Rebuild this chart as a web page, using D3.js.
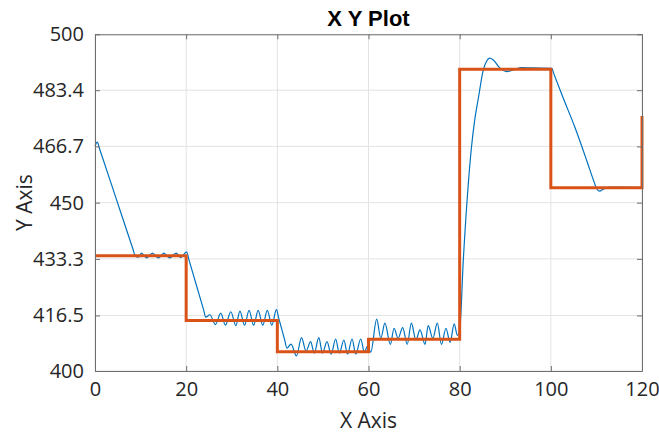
<!DOCTYPE html>
<html>
<head>
<meta charset="utf-8">
<script src="https://cdn.jsdelivr.net/npm/d3@7"></script>
<style>
html,body{margin:0;padding:0;background:#fff;}
svg{display:block;}
.tick-label{font-family:"Open Sans",sans-serif;font-size:20px;fill:#262626;}
.axis-title{font-family:"Open Sans",sans-serif;font-size:21px;fill:#262626;}
.title{font-family:"Liberation Sans",Arial,sans-serif;font-size:22px;font-weight:bold;fill:#000;}
</style>
</head>
<body>
<svg id="chart" width="659" height="434"></svg>
<script>
/* data */
const xTicks=[0,20,40,60,80,100,120];
const yTicks=[400,416.5,433.3,450,466.7,483.4,500];
const yTickLabels=["400","416.5","433.3","450","466.7","483.4","500"];

// reference: step levels (x where each step starts, y level)
const refX=[0,20,40,60,80,100,120];
const refY=[434.2,415.0,405.7,409.4,489.6,454.4,475.7];

// response curve
const respX=[0,0.5,1.0,4.5,8.3,8.8,9.5,10.2,11.3,12.6,13.9,15.1,16.4,17.8,18.8,20.1,
  20.6,22.2,23.8,24.3,25.2,26.4,27.6,28.6,29.8,30.9,31.8,32.8,33.8,34.8,35.8,36.8,37.8,38.8,39.8,
  40.3,41.6,42.1,43.0,44.2,45.3,46.3,47.3,48.1,49.1,49.9,50.9,51.8,52.8,53.6,54.6,55.4,56.4,57.2,58.3,59.1,59.8,60.5,
  61.8,62.7,63.6,64.8,65.6,66.5,67.5,68.5,69.4,70.4,71.3,72.4,73.1,74.1,75.1,76.0,77.0,77.9,78.8,79.5,80.0,
  80.8,81.9,82.6,83.3,84.1,85.2,85.9,86.6,87.5,88.5,89.5,90.3,91.7,93.6,96.0,100.2,
  100.7,102.5,105.3,108.0,109.5,110.0,110.7,111.5,113.0,120];
const respY=[466.8,468.0,466.0,451.8,436.3,434.3,433.8,435.0,433.6,435.0,433.6,435.0,433.6,435.0,433.7,435.4,
  433.1,425.7,418.3,416.0,416.7,413.8,417.2,413.6,417.6,413.5,417.8,413.6,418.0,413.6,418.0,413.6,418.0,413.6,418.2,
  415.7,409.3,406.8,408.0,404.5,409.9,405.9,408.7,405.3,409.9,405.3,408.7,405.0,409.5,405.3,409.2,405.0,409.5,405.0,409.5,405.6,407.5,405.6,
  415.4,409.7,414.2,407.9,412.7,409.7,412.9,407.9,414.2,409.2,412.2,407.9,413.5,409.7,414.2,407.9,412.7,408.5,414.0,410.6,412.0,
  433.0,455.7,466.6,474.5,481.0,489.5,492.0,492.9,492.2,490.5,489.3,488.9,489.4,490.1,490.0,489.9,
  488.1,481.8,472.3,462.0,456.1,454.3,453.4,454.0,454.6,454.5];

const W=659,H=434;
const margin={top:34.3,right:17,bottom:63,left:95};
const svg=d3.select("#chart");
const iw=W-margin.left-margin.right, ih=H-margin.top-margin.bottom;

const x=d3.scaleLinear().domain([0,120]).range([margin.left,margin.left+iw]);
const y=d3.scaleLinear().domain([400,500]).range([margin.top+ih,margin.top]);

/* grid */
const grid=svg.append("g");
grid.selectAll("line.gx").data(xTicks).enter().append("line")
  .attr("x1",d=>x(d)).attr("x2",d=>x(d)).attr("y1",y(400)).attr("y2",y(500))
  .attr("stroke","#e3e3e3").attr("stroke-width",1);
grid.selectAll("line.gy").data(yTicks).enter().append("line")
  .attr("y1",d=>y(d)).attr("y2",d=>y(d)).attr("x1",x(0)).attr("x2",x(120))
  .attr("stroke","#e3e3e3").attr("stroke-width",1);

/* lines */
svg.append("clipPath").attr("id","clip").append("rect")
  .attr("x",x(0)-2).attr("y",y(500)-2).attr("width",iw+4).attr("height",ih+4);

const refData=refX.map((v,i)=>[v,refY[i]]);
const respData=respX.map((v,i)=>[v,respY[i]]);

svg.append("path").datum(respData)
  .attr("clip-path","url(#clip)")
  .attr("fill","none").attr("stroke","#0072BD").attr("stroke-width",1.2)
  .attr("d",d3.line().x(d=>x(d[0])).y(d=>y(d[1])).curve(d3.curveMonotoneX));

svg.append("path").datum(refData)
  .attr("clip-path","url(#clip)")
  .attr("fill","none").attr("stroke","#D95319").attr("stroke-width",3)
  .attr("d",d3.line().x(d=>x(d[0])).y(d=>y(d[1])).curve(d3.curveStepAfter));

/* axes, MATLAB style box with inward ticks */
const axCol="#6e6e6e";
const xb=d3.axisBottom(x).tickValues(xTicks).tickSizeInner(-5).tickSizeOuter(0).tickPadding(11);
const xt=d3.axisTop(x).tickValues(xTicks).tickSizeInner(-5).tickSizeOuter(0).tickFormat("");
const yl=d3.axisLeft(y).tickValues(yTicks).tickSizeInner(-5).tickSizeOuter(0).tickPadding(11)
  .tickFormat((d,i)=>yTickLabels[i]);
const yr=d3.axisRight(y).tickValues(yTicks).tickSizeInner(-5).tickSizeOuter(0).tickFormat("");

function styleAxis(g){
  g.select(".domain").attr("stroke",axCol).attr("stroke-width",1);
  g.selectAll(".tick line").attr("stroke",axCol);
  g.selectAll(".tick text").attr("class","tick-label").attr("font-size",null).attr("font-family",null);
}
svg.append("g").attr("transform",`translate(0,${y(400)})`).call(xb).call(styleAxis);
svg.append("g").attr("transform",`translate(0,${y(500)})`).call(xt).call(styleAxis);
svg.append("g").attr("transform",`translate(${x(0)},0)`).call(yl).call(styleAxis);
svg.append("g").attr("transform",`translate(${x(120)},0)`).call(yr).call(styleAxis);

/* titles */
const cx=(x(0)+x(120))/2, cy=(y(400)+y(500))/2;
svg.append("text").attr("class","title").attr("x",cx).attr("y",26).attr("text-anchor","middle").text("X Y Plot");
svg.append("text").attr("class","axis-title").attr("x",cx).attr("y",428).attr("text-anchor","middle").text("X Axis");
svg.append("text").attr("class","axis-title").attr("transform",`translate(32,${cy}) rotate(-90)`)
  .attr("text-anchor","middle").text("Y Axis");
</script>
</body>
</html>
